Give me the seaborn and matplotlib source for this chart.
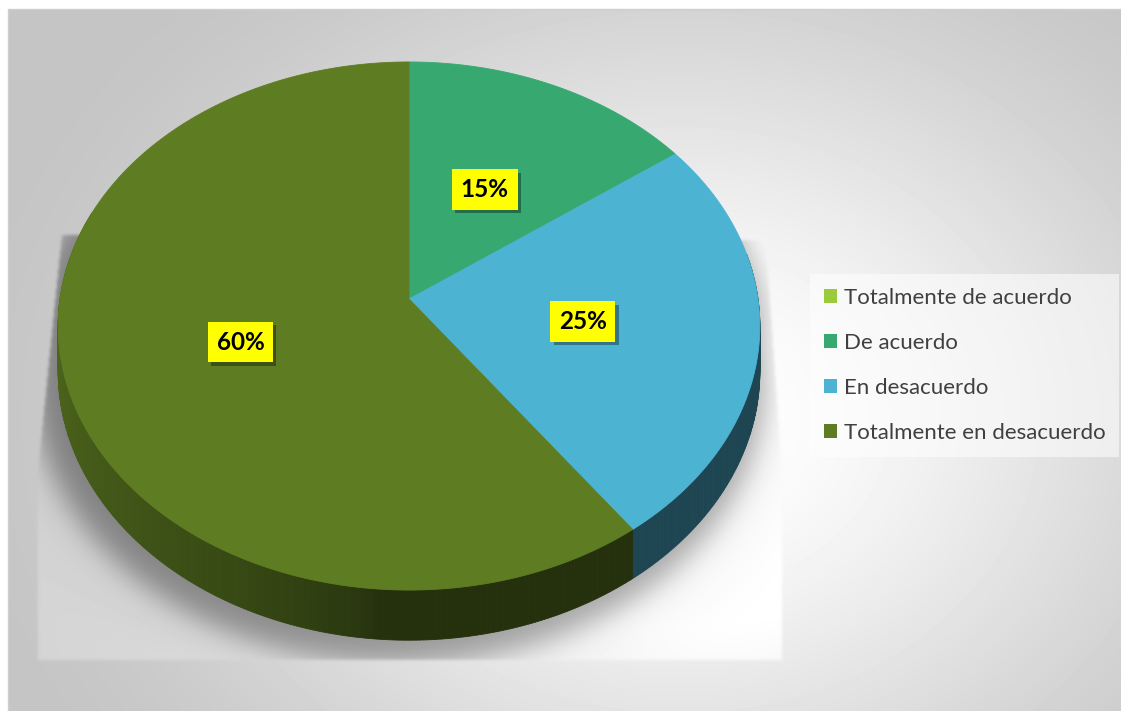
import numpy as np
import matplotlib
matplotlib.use("Agg")
import matplotlib.pyplot as plt
import matplotlib.colors as mcolors
import matplotlib.patheffects as pe
from matplotlib.patches import Polygon, Patch
from matplotlib.path import Path
import seaborn as sns

# ---- data -----------------------------------------------------------------
categories = ["Totalmente de acuerdo", "De acuerdo", "En desacuerdo",
              "Totalmente en desacuerdo"]
shares = [0, 15, 25, 60]
share_labels = ["0%", "15%", "25%", "60%"]
slice_colors = ["#9BCB3B", "#37A870", "#4DB3D2", "#5E7D22"]

# ---- style ----------------------------------------------------------------
sns.set_theme(style="white")
sns.set_palette(slice_colors)
plt.rcParams["font.family"] = ["Lato", "DejaVu Sans"]

W, H = 1121, 711

# perspective pie geometry, in pixel units
CX, CY = 409.0, 299.0
RX = 349.0
K_Y = -230.7
PERSP = 0.1023
DEPTH = 45.0


def project(theta, rho=1.0, drop=0.0):
    """Map an angle (deg, clockwise from the far side) on the disc to screen."""
    th = np.radians(theta)
    s = rho * np.sin(th)
    t = rho * np.cos(th)
    w = 1.0 + PERSP * t
    return CX + RX * s / w, (CY + K_Y * t + drop) / w


def gblur(img, sigma):
    r = int(3 * sigma)
    k = np.exp(-0.5 * (np.arange(-r, r + 1) / sigma) ** 2)
    k /= k.sum()
    out = np.apply_along_axis(lambda v: np.convolve(v, k, mode="same"), 1, img)
    out = np.apply_along_axis(lambda v: np.convolve(v, k, mode="same"), 0, out)
    return out


def side_shade(theta):
    if theta < 185:
        return 0.39
    u = min(1.0, (theta - 185) / 90.0)
    return 0.39 + 0.45 * u ** 0.6


# ---- background: radial gradient, lit floor panel and soft shadow ---------
yy, xx = np.mgrid[0:H, 0:W] + 0.5
pts = np.column_stack([xx.ravel(), yy.ravel()])

d = np.hypot((xx - 680) / 760.0, (yy - 420) / 620.0)
u = np.clip(d, 0, 1)
bg = 1.0 - 0.23 * u * u * (3 - 2 * u)

th_far = np.linspace(270, 450, 181)
th_near = np.linspace(90, 270, 181)
sil = np.vstack([np.column_stack(project(th_far)),
                 np.column_stack(project(th_near, drop=DEPTH))])
sil_sh = (sil - [409, 350]) * 1.04 + [409 - 10, 350 + 12]
sh_mask = Path(sil_sh).contains_points(pts).reshape(H, W).astype(float)

panel = Path([(62, 235), (766, 240), (782, 470), (782, 660),
              (38, 660), (38, 470)])
panel_mask = gblur(panel.contains_points(pts).reshape(H, W).astype(float), 1.5)

panel_val = (np.minimum(1.0, bg + 0.06)
             - 0.26 * gblur(sh_mask, 13) - 0.12 * gblur(sh_mask, 45))
img = panel_mask * panel_val + (1 - panel_mask) * bg

# white margin outside the chart area
img[:9, :] = 1.0
img[:, :8] = 1.0

fig = plt.figure(figsize=(W / 100, H / 100), dpi=100)
ax = fig.add_axes([0, 0, 1, 1])
ax.set_xlim(0, W)
ax.set_ylim(H, 0)
ax.axis("off")

ax.imshow(img, cmap="gray", vmin=0, vmax=1, extent=(0, W, H, 0),
          interpolation="bilinear", zorder=0)
ax.plot([8, 8, W], [H, 9, 9], color="#CFCFCF", lw=1.0, zorder=1)

# ---- pie: side wall then top face ----------------------------------------
cum = np.concatenate([[0], np.cumsum(shares)])
total = float(sum(shares))
for i, (share, col) in enumerate(zip(shares, slice_colors)):
    if share == 0:
        continue
    a0, a1 = 360 * cum[i] / total, 360 * cum[i + 1] / total
    lo, hi = max(a0, 80.0), min(a1, 290.0)
    if hi <= lo:
        continue
    edges = np.linspace(lo, hi, int(hi - lo) * 2 + 2)
    base = np.array(mcolors.to_rgb(col))
    for e0, e1 in zip(edges[:-1], edges[1:]):
        c = np.clip(base * side_shade(0.5 * (e0 + e1)), 0, 1)
        x0, y0 = project(e0)
        x1, y1 = project(e1)
        x2, y2 = project(e1, drop=DEPTH)
        x3, y3 = project(e0, drop=DEPTH)
        ax.add_patch(Polygon([(x0, y0), (x1, y1), (x2, y2), (x3, y3)],
                             closed=True, fc=c, ec=c, lw=0.6, zorder=2))

for i, (share, col) in enumerate(zip(shares, slice_colors)):
    if share == 0:
        continue
    a0, a1 = 360 * cum[i] / total, 360 * cum[i + 1] / total
    arc = np.linspace(a0, a1, int(a1 - a0) * 2 + 2)
    ax_, ay_ = project(arc)
    verts = [(CX, CY)] + list(zip(ax_, ay_))
    ax.add_patch(Polygon(verts, closed=True, fc=col, ec=col, lw=0.6,
                         zorder=3))

# ---- value labels ---------------------------------------------------------
for i, (share, lab) in enumerate(zip(shares, share_labels)):
    if share == 0:
        continue
    mid = 360 * (cum[i] + cum[i + 1]) / 2 / total
    lx, ly = project(mid, rho=0.5)
    t = ax.text(lx, ly + 2, lab, ha="center", va="center", fontsize=17.5,
                fontweight="bold", color="black", zorder=6,
                bbox=dict(boxstyle="square,pad=0.36", fc="#FFFF00",
                          ec="none"))
    t.get_bbox_patch().set_path_effects(
        [pe.withSimplePatchShadow(offset=(2.5, -2.5), shadow_rgbFace="black",
                                  alpha=0.35)])

# ---- legend ---------------------------------------------------------------
handles = [Patch(facecolor=c, edgecolor="none") for c in slice_colors]
leg = ax.legend(handles, categories, loc="upper left",
                bbox_to_anchor=(810, 274), bbox_transform=ax.transData,
                frameon=True, fancybox=False, framealpha=0.55,
                facecolor="white", edgecolor="none", fontsize=16,
                labelspacing=1.13, handlelength=0.58, handleheight=0.58,
                handletextpad=0.33, borderpad=0.62, borderaxespad=0,
                labelcolor="#404040")
leg.set_zorder(7)

fig.savefig("out.png", dpi=100)
